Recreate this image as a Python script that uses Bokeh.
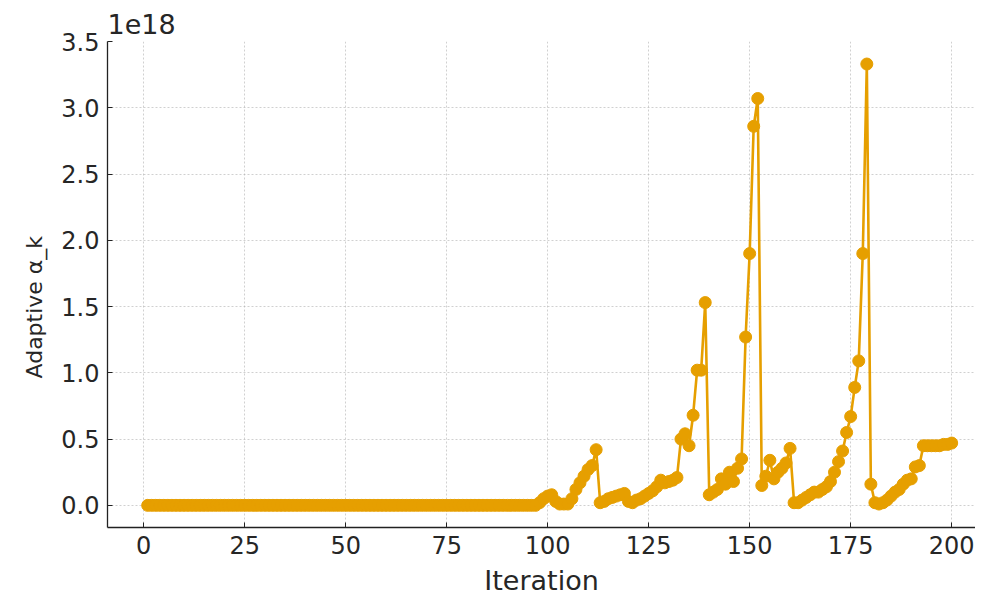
from bokeh.plotting import figure
from bokeh.models import FixedTicker, CustomJSTickFormatter, Range1d, ColumnDataSource, Title
from bokeh.embed import file_html
from bokeh.resources import INLINE

# ---- data (values in units of 1e18) ----
iterations = list(range(1, 201))
alpha_first = [  # iterations 1..97
    0.0, 0.0, 0.0, 0.0, 0.0, 0.0, 0.0, 0.0, 0.0, 0.0,
    0.0, 0.0, 0.0, 0.0, 0.0, 0.0, 0.0, 0.0, 0.0, 0.0,
    0.0, 0.0, 0.0, 0.0, 0.0, 0.0, 0.0, 0.0, 0.0, 0.0,
    0.0, 0.0, 0.0, 0.0, 0.0, 0.0, 0.0, 0.0, 0.0, 0.0,
    0.0, 0.0, 0.0, 0.0, 0.0, 0.0, 0.0, 0.0, 0.0, 0.0,
    0.0, 0.0, 0.0, 0.0, 0.0, 0.0, 0.0, 0.0, 0.0, 0.0,
    0.0, 0.0, 0.0, 0.0, 0.0, 0.0, 0.0, 0.0, 0.0, 0.0,
    0.0, 0.0, 0.0, 0.0, 0.0, 0.0, 0.0, 0.0, 0.0, 0.0,
    0.0, 0.0, 0.0, 0.0, 0.0, 0.0, 0.0, 0.0, 0.0, 0.0,
    0.0, 0.0, 0.0, 0.0, 0.0, 0.0, 0.0,
]
alpha_second = [  # iterations 98..200
    0.02, 0.05, 0.07, 0.08, 0.03, 0.01, 0.01, 0.01, 0.05, 0.12,
    0.17, 0.22, 0.27, 0.30, 0.42, 0.02, 0.03, 0.05, 0.06, 0.07,
    0.08, 0.09, 0.03, 0.02, 0.04, 0.05, 0.07, 0.09, 0.11, 0.14,
    0.19, 0.17, 0.18, 0.19, 0.21, 0.50, 0.54, 0.45, 0.68, 1.02,
    1.02, 1.53, 0.08, 0.10, 0.12, 0.20, 0.16, 0.25, 0.18, 0.28,
    0.35, 1.27, 1.90, 2.86, 3.07, 0.15, 0.22, 0.34, 0.20, 0.25,
    0.28, 0.32, 0.43, 0.02, 0.02, 0.04, 0.06, 0.08, 0.10, 0.10,
    0.12, 0.14, 0.18, 0.25, 0.33, 0.41, 0.55, 0.67, 0.89, 1.09,
    1.90, 3.33, 0.16, 0.02, 0.01, 0.02, 0.04, 0.07, 0.10, 0.12,
    0.16, 0.19, 0.20, 0.29, 0.30, 0.45, 0.45, 0.45, 0.45, 0.45,
    0.46, 0.46, 0.47,
]
SCALE = 1e18
alpha_k = [v * SCALE for v in alpha_first + alpha_second]

x_ticks = [0, 25, 50, 75, 100, 125, 150, 175, 200]
y_ticks_scaled = [0.0, 0.5, 1.0, 1.5, 2.0, 2.5, 3.0, 3.5]

COLOR = "#E69F00"
FONT = "DejaVu Sans"
TEXT = "#262626"

src = ColumnDataSource(dict(x=iterations, y=alpha_k))

p = figure(width=975, height=599, output_backend="svg", toolbar_location=None,
           x_range=Range1d(-8.95, 205.9), y_range=Range1d(-0.167 * SCALE, 3.5 * SCALE),
           min_border_left=107, min_border_right=0, min_border_top=41, min_border_bottom=72)

p.title = Title(text="1e18", align="left", text_font=FONT, text_font_size="27px",
                text_font_style="normal", text_color=TEXT, standoff=16)

# y-axis label placed as a side title so it can sit where the reference has it
ylab = Title(text="Adaptive α_k", align="left", offset=149, text_font=FONT,
             text_font_size="22px", text_font_style="normal", text_color=TEXT, standoff=24)
p.add_layout(ylab, "left")

p.line("x", "y", source=src, line_color=COLOR, line_width=2.6)
p.scatter("x", "y", source=src, size=12, fill_color=COLOR, line_color=COLOR)

p.outline_line_color = None
p.background_fill_color = "white"

for g in (p.xgrid, p.ygrid):
    g.grid_line_color = "#b0b0b0"
    g.grid_line_alpha = 0.6
    g.grid_line_dash = "2 2"
    g.grid_line_width = 1

p.xaxis.ticker = FixedTicker(ticks=x_ticks)
p.yaxis.ticker = FixedTicker(ticks=[t * SCALE for t in y_ticks_scaled])
p.yaxis.formatter = CustomJSTickFormatter(code="return (tick / 1e18).toFixed(1);")
p.xaxis.minor_tick_line_color = None
p.yaxis.minor_tick_line_color = None

for ax in (p.xaxis, p.yaxis):
    ax.axis_line_color = "#222222"
    ax.axis_line_width = 1.3
    ax.major_tick_line_color = "#222222"
    ax.major_tick_in = 5
    ax.major_tick_out = 0
    ax.major_label_text_font = FONT
    ax.major_label_text_font_size = "24px"
    ax.major_label_text_color = TEXT
    ax.axis_label_text_font = FONT
    ax.axis_label_text_font_style = "normal"
    ax.axis_label_text_color = TEXT

p.xaxis.axis_label = "Iteration"
p.xaxis.axis_label_text_font_size = "27px"
p.xaxis.major_label_standoff = 8
p.yaxis.major_label_standoff = 8
p.xaxis.axis_label_standoff = 8

open("out.html", "w").write(file_html(p, INLINE))
